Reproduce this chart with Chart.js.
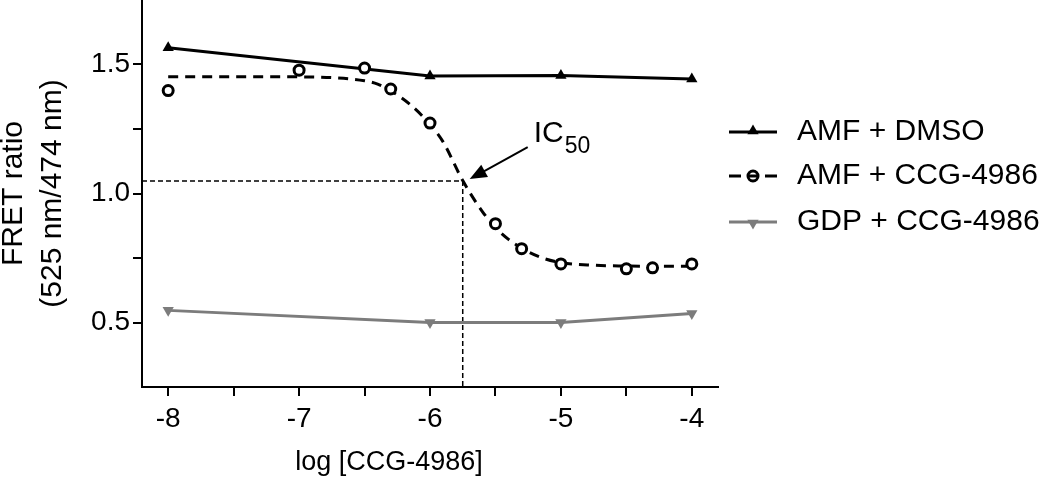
<!DOCTYPE html>
<html>
<head>
<meta charset="utf-8">
<script src="https://cdn.jsdelivr.net/npm/chart.js@4.4.0/dist/chart.umd.min.js"></script>
<style>
  body { margin: 0; background: #fff; }
</style>
</head>
<body>
<canvas id="fret" width="1050" height="484"></canvas>
<script>
// axis ticks
const xTicks = [-8, -7.5, -7, -6.5, -6, -5.5, -5, -4.5, -4];
const yTicks = [0.5, 0.75, 1.0, 1.25, 1.5];

// AMF + DMSO
const dmsoX = [-8, -6, -5, -4];
const dmsoY = [1.565, 1.455, 1.457, 1.444];

// AMF + CCG-4986 measured points
const ccgX = [-8, -7, -6.5, -6.3, -6, -5.5, -5.3, -5, -4.5, -4.3, -4];
const ccgY = [1.399, 1.478, 1.486, 1.405, 1.273, 0.883, 0.786, 0.727, 0.708, 0.712, 0.727];

// AMF + CCG-4986 fitted curve
const fitX = [-8, -7.5, -7, -6.75, -6.5, -6.4, -6.3, -6.15, -6, -5.9, -5.75, -5.6, -5.5, -5.4, -5.3, -5.15, -5, -4.75, -4.5, -4.25, -4];
const fitY = [1.453, 1.453, 1.452, 1.449, 1.437, 1.424, 1.398, 1.344, 1.268, 1.2, 1.05, 0.93, 0.868, 0.822, 0.788, 0.752, 0.732, 0.722, 0.719, 0.718, 0.718];

// GDP + CCG-4986
const gdpX = [-8, -6, -5, -4];
const gdpY = [0.547, 0.5, 0.5, 0.535];

// IC50 marker
const ic50X = -5.75;
const ic50Y = 1.048;

const seriesNames = ['AMF + DMSO', 'AMF + CCG-4986', 'GDP + CCG-4986'];

const FONT = 'Liberation Sans, Arial, sans-serif';
const GREY = '#7c7c7c';

function pts(xs, ys) {
  return xs.map((x, i) => ({ x: x, y: ys[i] }));
}

function tri(ctx, x, y, r, down) {
  const s = down ? -1 : 1;
  ctx.beginPath();
  ctx.moveTo(x, y - s * r);
  ctx.lineTo(x + r * 0.866, y + s * r * 0.5);
  ctx.lineTo(x - r * 0.866, y + s * r * 0.5);
  ctx.closePath();
  ctx.fill();
}

const extras = {
  id: 'extras',
  beforeDraw(chart) {
    const ctx = chart.ctx;
    ctx.save();
    ctx.fillStyle = '#fff';
    ctx.fillRect(0, 0, chart.width, chart.height);
    ctx.restore();
  },
  beforeDatasetsDraw(chart) {
    // IC50 guide lines
    const ctx = chart.ctx;
    const xs = chart.scales.x, ys = chart.scales.y, area = chart.chartArea;
    const px = xs.getPixelForValue(ic50X), py = ys.getPixelForValue(ic50Y);
    ctx.save();
    ctx.strokeStyle = '#000';
    ctx.lineWidth = 1.5;
    ctx.setLineDash([5, 3]);
    ctx.beginPath();
    ctx.moveTo(area.left, py);
    ctx.lineTo(px, py);
    ctx.moveTo(px, py);
    ctx.lineTo(px, area.bottom);
    ctx.stroke();
    ctx.restore();
  },
  afterDraw(chart) {
    const ctx = chart.ctx;
    const xs = chart.scales.x, ys = chart.scales.y;
    const px = xs.getPixelForValue(ic50X), py = ys.getPixelForValue(ic50Y);
    ctx.save();

    // arrow to IC50
    const tipX = px + 7, tipY = py - 2;
    const fromX = px + 65, fromY = py - 34;
    const ang = Math.atan2(tipY - fromY, tipX - fromX);
    ctx.strokeStyle = '#000';
    ctx.fillStyle = '#000';
    ctx.lineWidth = 2;
    ctx.beginPath();
    ctx.moveTo(fromX, fromY);
    ctx.lineTo(tipX - 12 * Math.cos(ang), tipY - 12 * Math.sin(ang));
    ctx.stroke();
    ctx.beginPath();
    ctx.moveTo(tipX, tipY);
    ctx.lineTo(tipX - 17 * Math.cos(ang) + 7 * Math.sin(ang), tipY - 17 * Math.sin(ang) - 7 * Math.cos(ang));
    ctx.lineTo(tipX - 17 * Math.cos(ang) - 7 * Math.sin(ang), tipY - 17 * Math.sin(ang) + 7 * Math.cos(ang));
    ctx.closePath();
    ctx.fill();

    ctx.textBaseline = 'alphabetic';
    ctx.textAlign = 'left';
    ctx.font = '30px ' + FONT;
    ctx.fillText('IC', px + 71, py - 39);
    const w = ctx.measureText('IC').width;
    ctx.font = '23px ' + FONT;
    ctx.fillText('50', px + 71 + w + 1, py - 28);

    // x axis title
    ctx.font = '27px ' + FONT;
    ctx.textAlign = 'center';
    ctx.fillText('log [CCG-4986]', 389, 470);

    // legend
    const lx0 = 729, lx1 = 777, mx = 753, tx = 797;
    const rows = [132, 176, 222];
    ctx.textAlign = 'left';
    ctx.textBaseline = 'middle';
    ctx.font = '30px ' + FONT;
    ctx.lineWidth = 3;

    // row 1
    ctx.strokeStyle = '#000'; ctx.fillStyle = '#000';
    ctx.beginPath(); ctx.moveTo(lx0, rows[0]); ctx.lineTo(lx1, rows[0]); ctx.stroke();
    tri(ctx, mx, rows[0] - 1, 6.5, false);
    ctx.fillText(seriesNames[0], tx, rows[0]);

    // row 2
    ctx.beginPath();
    ctx.moveTo(lx0, rows[1]); ctx.lineTo(lx0 + 12, rows[1]);
    ctx.moveTo(lx1 - 12, rows[1]); ctx.lineTo(lx1, rows[1]);
    ctx.stroke();
    ctx.beginPath(); ctx.moveTo(mx - 6, rows[1]); ctx.lineTo(mx + 6, rows[1]); ctx.stroke();
    ctx.beginPath(); ctx.arc(mx, rows[1], 5, 0, Math.PI * 2);
    ctx.stroke();
    ctx.fillText(seriesNames[1], tx, rows[1]);

    // row 3
    ctx.strokeStyle = GREY; ctx.fillStyle = GREY;
    ctx.beginPath(); ctx.moveTo(lx0, rows[2]); ctx.lineTo(lx1, rows[2]); ctx.stroke();
    tri(ctx, mx, rows[2] + 1, 6.5, true);
    ctx.fillStyle = '#000';
    ctx.fillText(seriesNames[2], tx, rows[2]);

    ctx.restore();
  }
};

const ctx = document.getElementById('fret').getContext('2d');
const chart = new Chart(ctx, {
  type: 'line',
  data: {
    datasets: [
      {
        label: seriesNames[0],
        data: pts(dmsoX, dmsoY),
        borderColor: '#000',
        backgroundColor: '#000',
        borderWidth: 3,
        pointStyle: 'triangle',
        pointRadius: 6.5,
        pointBorderWidth: 0,
        tension: 0,
        order: 2
      },
      {
        label: seriesNames[1] + ' fit',
        data: pts(fitX, fitY),
        borderColor: '#000',
        borderWidth: 3,
        borderDash: [10, 7],
        pointRadius: 0,
        cubicInterpolationMode: 'monotone',
        order: 3
      },
      {
        label: seriesNames[1],
        data: pts(ccgX, ccgY),
        showLine: false,
        borderColor: '#000',
        backgroundColor: '#fff',
        pointStyle: 'circle',
        pointRadius: 5,
        pointBorderWidth: 3,
        order: 0
      },
      {
        label: seriesNames[2],
        data: pts(gdpX, gdpY),
        borderColor: GREY,
        backgroundColor: GREY,
        borderWidth: 3,
        pointStyle: 'triangle',
        pointRotation: 180,
        pointRadius: 6.5,
        pointBorderWidth: 0,
        tension: 0,
        order: 1
      }
    ]
  },
  options: {
    responsive: false,
    animation: false,
    devicePixelRatio: 1,
    layout: { autoPadding: false, padding: { left: 0, right: 332, top: 0, bottom: 0 } },
    plugins: {
      legend: { display: false },
      tooltip: { enabled: false }
    },
    scales: {
      x: {
        type: 'linear',
        min: -8.2,
        max: -3.8,
        afterBuildTicks: s => { s.ticks = xTicks.map(v => ({ value: v })); },
        afterFit: s => { s.height = 97; },
        grid: { drawOnChartArea: false, drawTicks: true, tickLength: 9, color: '#000', lineWidth: 2 },
        border: { display: true, color: '#000', width: 2 },
        ticks: {
          autoSkip: false,
          maxRotation: 0,
          padding: 6,
          color: '#000',
          font: { family: FONT, size: 28 },
          callback: v => Number.isInteger(v) ? String(v) : ''
        }
      },
      y: {
        type: 'linear',
        min: 0.25,
        max: 1.75,
        afterBuildTicks: s => { s.ticks = yTicks.map(v => ({ value: v })); },
        afterFit: s => { s.width = 142; s.paddingTop = 0; },
        grid: { drawOnChartArea: false, drawTicks: true, tickLength: 9, color: '#000', lineWidth: 2 },
        border: { display: true, color: '#000', width: 2 },
        ticks: {
          padding: 3,
          color: '#000',
          font: { family: FONT, size: 28 },
          callback: v => Math.abs(v * 2 - Math.round(v * 2)) < 1e-9 ? v.toFixed(1) : ''
        },
        title: {
          display: true,
          text: ['FRET ratio', '(525 nm/474 nm)'],
          color: '#000',
          font: { family: FONT, size: 30, lineHeight: 1.3 },
          padding: { top: -6, bottom: 0 }
        }
      }
    }
  },
  plugins: [extras]
});
</script>
</body>
</html>
